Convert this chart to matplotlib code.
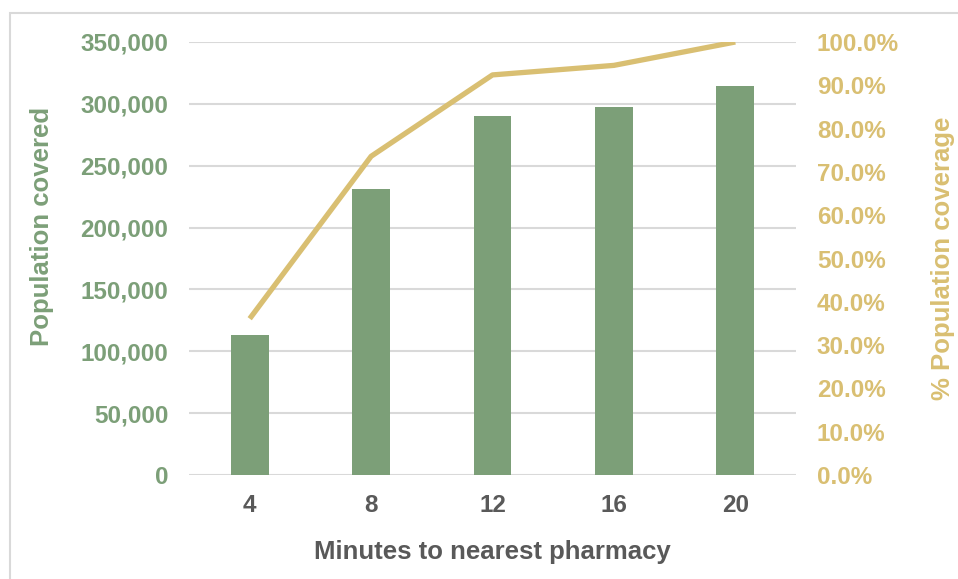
import matplotlib
matplotlib.use("Agg")
import matplotlib.pyplot as plt
from matplotlib.ticker import FuncFormatter, MultipleLocator
from matplotlib.patches import Rectangle

categories = ["4", "8", "12", "16", "20"]
population = [113500, 231500, 290500, 297500, 314500]
coverage = [36.1, 73.6, 92.4, 94.6, 100.0]

GREEN = "#7C9F78"
GOLD = "#D9BF72"
GREY = "#595959"
GRID = "#D9D9D9"

plt.rcParams['font.family'] = ['Liberation Sans', 'DejaVu Sans']
plt.rcParams['font.weight'] = 'bold'

fig = plt.figure(figsize=(9.58, 5.79), dpi=100)
W, H = 958, 579
ax = fig.add_axes([189 / W, 1 - 475 / H, (796 - 189) / W, (475 - 42) / H])

# outer chart border (left/top visible)
fig.patches.append(Rectangle((10 / W, -0.1), 1.2, 1.1 - 13 / H, transform=fig.transFigure,
                             fill=False, edgecolor=GRID, linewidth=1.5))

x = list(range(len(categories)))
ax.bar(x, population, width=0.31, color=GREEN, zorder=3)
ax.set_xlim(-0.5, len(categories) - 0.5)
ax.set_ylim(0, 350000)
ax.yaxis.set_major_locator(MultipleLocator(50000))
ax.yaxis.set_major_formatter(FuncFormatter(lambda v, p: f"{int(v):,}"))
ax.grid(axis='y', color=GRID, linewidth=1.5, zorder=0)
ax.set_axisbelow(True)
for s in ax.spines.values():
    s.set_visible(False)
ax.tick_params(axis='y', length=0, pad=15, labelsize=17.5, labelcolor=GREEN)
ax.tick_params(axis='x', length=0, pad=14, labelsize=17.5, labelcolor=GREY)
ax.set_xticks(x)
ax.set_xticklabels(categories)
ax.set_ylabel("Population covered", fontsize=18.5, color=GREEN, fontweight='bold')
ax.yaxis.set_label_coords((54 - 189) / 607, (475 - 226) / 433)
ax.set_xlabel("Minutes to nearest pharmacy", fontsize=18.5, color=GREY, fontweight='bold', labelpad=16)

ax2 = ax.twinx()
ax2.plot(x, coverage, color=GOLD, linewidth=3.8, solid_capstyle='butt', zorder=4)
ax2.set_ylim(0, 100)
ax2.yaxis.set_major_locator(MultipleLocator(10))
ax2.yaxis.set_major_formatter(FuncFormatter(lambda v, p: f"{v:.1f}%"))
for s in ax2.spines.values():
    s.set_visible(False)
ax2.tick_params(axis='y', length=0, pad=15, labelsize=17.5, labelcolor=GOLD)
ax2.set_ylabel("% Population coverage", fontsize=18.5, color=GOLD, fontweight='bold',
               rotation=90, labelpad=23)

for lbl in ax.get_xticklabels() + ax.get_yticklabels() + ax2.get_yticklabels():
    lbl.set_fontweight('bold')

fig.savefig("out.png", dpi=100)
